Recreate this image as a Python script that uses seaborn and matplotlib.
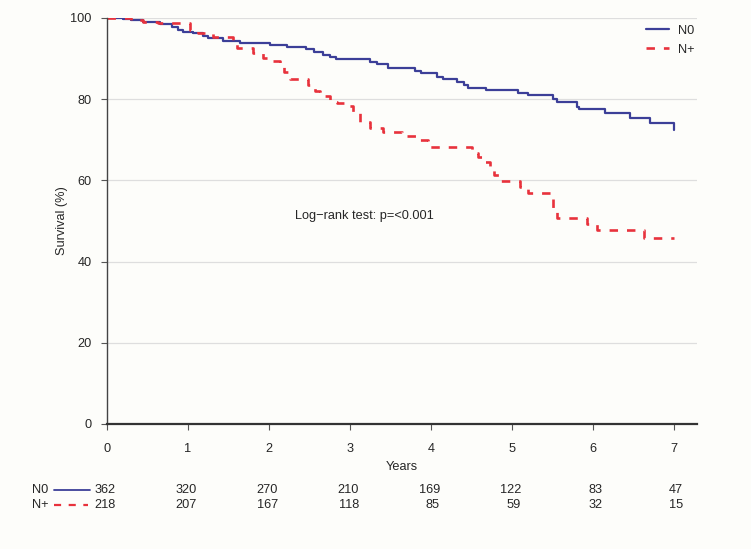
import matplotlib
matplotlib.use("Agg")
import matplotlib.pyplot as plt
from matplotlib.lines import Line2D
import numpy as np
import pandas as pd
import seaborn as sns

# Kaplan-Meier step points (years, survival %)
n0_years = [0, 0.2, 0.3, 0.45, 0.65, 0.8, 0.88, 0.94, 1.06, 1.19, 1.25, 1.43, 1.64,
            2.01, 2.22, 2.46, 2.55, 2.67, 2.75, 2.82, 3.25, 3.33, 3.47, 3.80, 3.88,
            4.07, 4.15, 4.32, 4.40, 4.46, 4.68, 5.07, 5.19, 5.50, 5.55, 5.80, 5.83,
            6.14, 6.45, 6.70, 7.0]
n0_surv = [100, 99.8, 99.5, 98.9, 98.6, 97.9, 97.0, 96.6, 96.2, 95.6, 95.0, 94.4, 93.8,
           93.3, 92.8, 92.3, 91.7, 91.0, 90.5, 89.8, 89.2, 88.7, 87.6, 87.0, 86.5,
           85.5, 85.0, 84.3, 83.6, 82.8, 82.3, 81.6, 81.0, 80.0, 79.2, 78.2, 77.5,
           76.7, 75.3, 74.1, 72.4]

np_years = [0, 0.3, 0.45, 0.63, 1.02, 1.12, 1.31, 1.56, 1.60, 1.80, 1.93, 2.05, 2.14,
            2.18, 2.26, 2.48, 2.57, 2.63, 2.75, 2.84, 2.96, 3.04, 3.12, 3.25, 3.41,
            3.64, 3.86, 3.96, 4.50, 4.58, 4.65, 4.72, 4.78, 4.84, 5.10, 5.20, 5.50,
            5.55, 5.92, 6.05, 6.62, 7.0]
np_surv = [100, 99.5, 99.0, 98.7, 97.0, 96.2, 95.4, 94.2, 92.7, 91.3, 90.2, 89.5, 88.4,
           86.8, 85.0, 83.5, 81.9, 80.9, 79.4, 79.0, 78.3, 76.9, 74.5, 72.8, 72.0,
           70.9, 69.9, 68.3, 66.8, 65.8, 64.6, 62.8, 61.3, 59.9, 58.4, 56.8, 52.7,
           50.7, 49.2, 47.8, 45.7, 45.7]

groups = ["N0", "N+"]
risk_years = [0, 1, 2, 3, 4, 5, 6, 7]
risk_n0 = [362, 320, 270, 210, 169, 122, 83, 47]
risk_np = [218, 207, 167, 118, 85, 59, 32, 15]

df = pd.concat([
    pd.DataFrame({"Years": n0_years, "Survival": n0_surv, "Group": "N0"}),
    pd.DataFrame({"Years": np_years, "Survival": np_surv, "Group": "N+"}),
])

sns.set_style("white")
plt.rcParams["font.family"] = ["Liberation Sans", "DejaVu Sans"]
fs = 9.2
plt.rcParams["font.size"] = fs

blue = "#3c3f98"
red = "#e8323c"
bg = "#fdfdfa"
red_dash = (3.2, 3.4)

fig = plt.figure(figsize=(7.51, 5.49), dpi=100, facecolor=bg)
ax = fig.add_axes([107 / 751, 1 - 424 / 549, 590 / 751, 406 / 549])
ax.set_facecolor(bg)

for y in [20, 40, 60, 80, 100]:
    ax.axhline(y, color="#dedede", lw=0.9, zorder=0)

sns.lineplot(data=df, x="Years", y="Survival", hue="Group", style="Group",
             palette={"N0": blue, "N+": red}, dashes={"N0": "", "N+": red_dash},
             estimator=None, sort=False, drawstyle="steps-post", ax=ax,
             linewidth=1.6, legend=False)
for line in ax.get_lines():
    if line.get_color() == red:
        line.set_linewidth(1.9)

ax.set_xlim(0, 7.28)
ax.set_ylim(0, 100)
ax.set_xticks(risk_years)
ax.set_yticks([0, 20, 40, 60, 80, 100])
sns.despine(ax=ax)
ax.spines["left"].set_color("#444444")
ax.spines["left"].set_linewidth(1.0)
ax.spines["bottom"].set_color("#333333")
ax.spines["bottom"].set_linewidth(1.6)
ax.tick_params(axis="x", length=4, width=0.8, color="#555555", pad=10, labelsize=fs)
ax.tick_params(axis="y", length=4, width=0.8, color="#555555", pad=7, labelsize=fs)
ax.tick_params(bottom=True, left=True)

ax.set_xlabel("Years", fontsize=fs)
ax.xaxis.set_label_coords(0.5, -0.092)
ax.set_ylabel("Survival (%)", fontsize=fs)
ax.yaxis.set_label_coords(-0.066, 0.5)

ax.text(2.32, 51.2, "Log\u2212rank test: p=<0.001", va="center", ha="left", fontsize=fs)

handles = [Line2D([], [], color=blue, lw=1.6),
           Line2D([], [], color=red, lw=1.9, dashes=red_dash)]
ax.legend(handles, groups, loc="upper right", bbox_to_anchor=(1.015, 1.012), frameon=False,
          handlelength=1.8, handletextpad=0.7, labelspacing=0.55, fontsize=fs)

# numbers at risk
tr = ax.get_xaxis_transform()
for yr, a, b in zip(risk_years, risk_n0, risk_np):
    ax.text(yr + 0.11, -0.163, str(a), transform=tr, ha="right", va="center", fontsize=fs)
    ax.text(yr + 0.11, -0.2, str(b), transform=tr, ha="right", va="center", fontsize=fs)

fig.text(32 / 751, 1 - 490 / 549, "N0", ha="left", va="center", fontsize=fs)
fig.text(32 / 751, 1 - 505 / 549, "N+", ha="left", va="center", fontsize=fs)
fig.add_artist(Line2D([54 / 751, 90 / 751], [1 - 490 / 549] * 2, color=blue, lw=1.3,
                      transform=fig.transFigure))
fig.add_artist(Line2D([54 / 751, 88 / 751], [1 - 505 / 549] * 2, color=red, lw=1.6,
                      dashes=red_dash, transform=fig.transFigure))

fig.savefig("out.png", dpi=100, facecolor=bg)
